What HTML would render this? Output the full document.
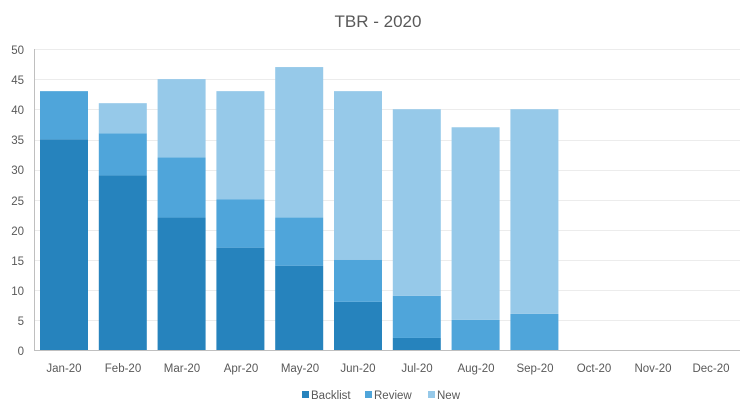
<!DOCTYPE html>
<html><head><meta charset="utf-8"><style>
body{margin:0;background:#fff;}
svg{display:block;font-family:"Liberation Sans",sans-serif;}
</style></head><body>
<svg width="756" height="416" xmlns="http://www.w3.org/2000/svg">
<rect width="756" height="416" fill="#fff"/>
<text x="378" y="27" text-anchor="middle" font-size="17" fill="#595959">TBR - 2020</text>
<g stroke="#ececec" stroke-width="1">
<line x1="34" x2="740" y1="49.5" y2="49.5"/>
<line x1="34" x2="740" y1="79.5" y2="79.5"/>
<line x1="34" x2="740" y1="109.5" y2="109.5"/>
<line x1="34" x2="740" y1="140.5" y2="140.5"/>
<line x1="34" x2="740" y1="170.5" y2="170.5"/>
<line x1="34" x2="740" y1="200.5" y2="200.5"/>
<line x1="34" x2="740" y1="230.5" y2="230.5"/>
<line x1="34" x2="740" y1="260.5" y2="260.5"/>
<line x1="34" x2="740" y1="290.5" y2="290.5"/>
<line x1="34" x2="740" y1="320.5" y2="320.5"/>
</g>
<g font-size="11.5" fill="#595959" text-anchor="end">
<text x="24" y="54">50</text><text x="24" y="84">45</text><text x="24" y="114">40</text>
<text x="24" y="144">35</text><text x="24" y="174">30</text><text x="24" y="205">25</text>
<text x="24" y="235">20</text><text x="24" y="265">15</text><text x="24" y="295">10</text>
<text x="24" y="325">5</text><text x="24" y="355">0</text>
</g>
<g>
<rect x="40" y="139.3" width="48" height="210.7" fill="#2683bd"/>
<rect x="40" y="91.14" width="48" height="48.16" fill="#4fa5da"/>
<rect x="98.8" y="175.42" width="48" height="174.58" fill="#2683bd"/>
<rect x="98.8" y="133.28" width="48" height="42.14" fill="#4fa5da"/>
<rect x="98.8" y="103.18" width="48" height="30.1" fill="#96c9e9"/>
<rect x="157.6" y="217.56" width="48" height="132.44" fill="#2683bd"/>
<rect x="157.6" y="157.36" width="48" height="60.2" fill="#4fa5da"/>
<rect x="157.6" y="79.1" width="48" height="78.26" fill="#96c9e9"/>
<rect x="216.4" y="247.66" width="48" height="102.34" fill="#2683bd"/>
<rect x="216.4" y="199.5" width="48" height="48.16" fill="#4fa5da"/>
<rect x="216.4" y="91.14" width="48" height="108.36" fill="#96c9e9"/>
<rect x="275.2" y="265.72" width="48" height="84.28" fill="#2683bd"/>
<rect x="275.2" y="217.56" width="48" height="48.16" fill="#4fa5da"/>
<rect x="275.2" y="67.06" width="48" height="150.5" fill="#96c9e9"/>
<rect x="334" y="301.84" width="48" height="48.16" fill="#2683bd"/>
<rect x="334" y="259.7" width="48" height="42.14" fill="#4fa5da"/>
<rect x="334" y="91.14" width="48" height="168.56" fill="#96c9e9"/>
<rect x="392.8" y="337.96" width="48" height="12.04" fill="#2683bd"/>
<rect x="392.8" y="295.82" width="48" height="42.14" fill="#4fa5da"/>
<rect x="392.8" y="109.2" width="48" height="186.62" fill="#96c9e9"/>
<rect x="451.6" y="319.9" width="48" height="30.1" fill="#4fa5da"/>
<rect x="451.6" y="127.26" width="48" height="192.64" fill="#96c9e9"/>
<rect x="510.4" y="313.88" width="48" height="36.12" fill="#4fa5da"/>
<rect x="510.4" y="109.2" width="48" height="204.68" fill="#96c9e9"/>
</g>
<line x1="34.5" x2="34.5" y1="49" y2="350" stroke="#bfbfbf"/>
<line x1="34" x2="740" y1="350.5" y2="350.5" stroke="#bfbfbf"/>
<g font-size="11.5" fill="#595959" text-anchor="middle">
<text x="64" y="372">Jan-20</text><text x="123" y="372">Feb-20</text><text x="182" y="372">Mar-20</text>
<text x="241" y="372">Apr-20</text><text x="300" y="372">May-20</text><text x="358" y="372">Jun-20</text>
<text x="417" y="372">Jul-20</text><text x="476" y="372">Aug-20</text><text x="535" y="372">Sep-20</text>
<text x="594" y="372">Oct-20</text><text x="653" y="372">Nov-20</text><text x="711" y="372">Dec-20</text>
</g>
<rect x="302" y="391" width="7" height="7" fill="#2683bd"/>
<text x="311" y="399" font-size="11.5" fill="#595959">Backlist</text>
<rect x="365" y="391" width="7" height="7" fill="#4fa5da"/>
<text x="374" y="399" font-size="11.5" fill="#595959">Review</text>
<rect x="428" y="391" width="7" height="7" fill="#96c9e9"/>
<text x="437" y="399" font-size="11.5" fill="#595959">New</text>
</svg>
</body></html>
